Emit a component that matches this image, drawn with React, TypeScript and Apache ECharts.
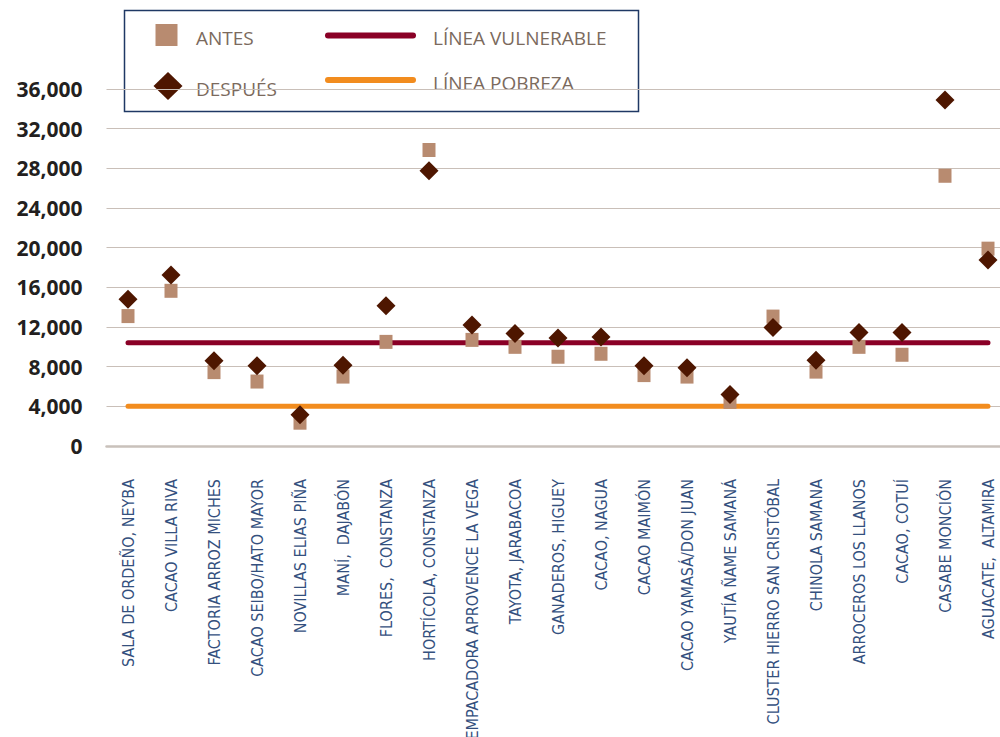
import React, { useEffect, useRef } from "react";
import * as echarts from "echarts";

const categories = [
  "SALA DE ORDEÑO, NEYBA",
  "CACAO VILLA RIVA",
  "FACTORIA ARROZ MICHES",
  "CACAO SEIBO/HATO MAYOR",
  "NOVILLAS ELIAS PIÑA",
  "MANÍ,  DAJABÓN",
  "FLORES,  CONSTANZA",
  "HORTÍCOLA, CONSTANZA",
  "EMPACADORA APROVENCE LA VEGA",
  "TAYOTA, JARABACOA",
  "GANADEROS, HIGUEY",
  "CACAO, NAGUA",
  "CACAO MAIMÓN",
  "CACAO YAMASÁ/DON JUAN",
  "YAUTÍA ÑAME SAMANÁ",
  "CLUSTER HIERRO SAN CRISTÓBAL",
  "CHINOLA SAMANA",
  "ARROCEROS LOS LLANOS",
  "CACAO, COTUÍ",
  "CASABE MONCIÓN",
  "AGUACATE,  ALTAMIRA",
];

const antes = [13100, 15650, 7450, 6500, 2350, 7000, 10500, 29850, 10700, 10000, 9000, 9300, 7150, 7000, 4450, 13050, 7500, 10000, 9200, 27250, 19900];
const despues = [14800, 17250, 8600, 8100, 3150, 8150, 14150, 27750, 12200, 11350, 10900, 11000, 8100, 7900, 5200, 11950, 8650, 11450, 11450, 34900, 18750];

const lineaVulnerable = 10400;
const lineaPobreza = 4000;

const yMin = 0;
const yMax = 36000;
const yInterval = 4000;

const seriesNames = ["ANTES", "DESPUÉS", "LÍNEA VULNERABLE", "LÍNEA POBREZA"];

const C_ANTES = "#B88B70";
const C_DESPUES = "#4E1600";
const C_VULN = "#8A0026";
const C_POB = "#F28C1E";
const C_LEG_TEXT = "#7B6A5D";

export default function App() {
  const ref = useRef<HTMLDivElement>(null);

  useEffect(() => {
    if (!ref.current) return;
    const chart = echarts.init(ref.current, null, { renderer: "svg" });
    const legendFont = {
      fontFamily: "'Open Sans', 'Noto Sans', sans-serif",
      fontSize: 19,
      fill: C_LEG_TEXT,
    };
    chart.setOption({
      animation: false,
      backgroundColor: "#ffffff",
      grid: {
        left: 106.5,
        top: 89,
        width: 903,
        height: 357,
        containLabel: false,
        outerBoundsMode: "none",
      },
      xAxis: {
        type: "category",
        data: categories,
        boundaryGap: true,
        axisLine: { show: true, lineStyle: { color: "#C9C1BB", width: 2.5 } },
        axisTick: { show: false },
        splitLine: { show: false },
        axisLabel: {
          rotate: 90,
          interval: 0,
          margin: 33,
          fontSize: 16,
          fontWeight: "normal",
          color: "#34507E",
          fontFamily: "'Liberation Sans Narrow', 'DejaVu Sans Condensed', sans-serif",
        },
      },
      yAxis: {
        type: "value",
        min: yMin,
        max: yMax,
        interval: yInterval,
        axisLine: { show: false },
        axisTick: { show: false },
        splitLine: { show: true, lineStyle: { color: "#C9BFB8", width: 1.2 } },
        axisLabel: {
          margin: 24,
          fontSize: 21,
          fontWeight: "bold",
          color: "#231F20",
          fontFamily: "'Open Sans', 'Noto Sans', sans-serif",
          formatter: (v: number) => v.toLocaleString("en-US"),
        },
      },
      series: [
        {
          name: seriesNames[2],
          type: "line",
          data: categories.map(() => lineaVulnerable),
          symbol: "none",
          lineStyle: { color: C_VULN, width: 5, cap: "round" },
          z: 1,
        },
        {
          name: seriesNames[3],
          type: "line",
          data: categories.map(() => lineaPobreza),
          symbol: "none",
          lineStyle: { color: C_POB, width: 5, cap: "round" },
          z: 1,
        },
        {
          name: seriesNames[0],
          type: "scatter",
          data: antes,
          symbol: "rect",
          symbolSize: [13, 14],
          itemStyle: { color: C_ANTES, opacity: 1 },
          z: 3,
        },
        {
          name: seriesNames[1],
          type: "scatter",
          data: despues,
          symbol: "diamond",
          symbolSize: [19, 19],
          itemStyle: { color: C_DESPUES, opacity: 1 },
          z: 4,
        },
      ],
      graphic: [
        {
          type: "group",
          z: 100,
          children: [
            {
              type: "rect",
              shape: { x: 124.5, y: 10.5, width: 514, height: 101 },
              style: { fill: "#ffffff", stroke: "#1F3864", lineWidth: 1.5 },
            },
            {
              type: "rect",
              shape: { x: 155.5, y: 24, width: 22, height: 22 },
              style: { fill: C_ANTES },
            },
            {
              type: "polygon",
              shape: { points: [[168, 72], [182.5, 86], [168, 100], [153.5, 86]] },
              style: { fill: C_DESPUES },
            },
            {
              type: "line",
              shape: { x1: 328, y1: 35.5, x2: 413, y2: 35.5 },
              style: { stroke: C_VULN, lineWidth: 6, lineCap: "round" },
            },
            {
              type: "line",
              shape: { x1: 328, y1: 80, x2: 413, y2: 80 },
              style: { stroke: C_POB, lineWidth: 6, lineCap: "round" },
            },
            {
              type: "text",
              x: 196,
              y: 38,
              style: { ...legendFont, text: seriesNames[0], textVerticalAlign: "middle", verticalAlign: "middle" },
            },
            {
              type: "text",
              x: 196,
              y: 89,
              style: { ...legendFont, text: seriesNames[1], textVerticalAlign: "middle", verticalAlign: "middle" },
            },
            {
              type: "text",
              x: 433,
              y: 38,
              style: { ...legendFont, text: seriesNames[2], textVerticalAlign: "middle", verticalAlign: "middle" },
            },
            {
              type: "text",
              x: 433,
              y: 83,
              style: { ...legendFont, text: seriesNames[3], textVerticalAlign: "middle", verticalAlign: "middle" },
            },
          ],
        },
      ],
    });
    return () => chart.dispose();
  }, []);

  return (
    <div
      ref={ref}
      style={{ position: "absolute", left: 0, top: 0, width: 1000, height: 737 }}
    />
  );
}
